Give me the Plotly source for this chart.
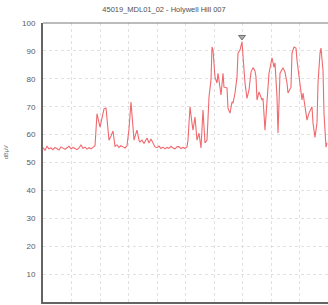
import plotly.graph_objects as go

# sample positions (arbitrary units, 0..285) and level in dBµV
sample_pos = [0, 2, 4, 6, 8, 10, 12, 14, 16, 18, 20, 22, 24, 26, 28, 30, 32, 34, 36, 38, 40, 42, 44, 46, 48, 50, 52,
              54, 56, 57, 59, 61, 63, 65, 66, 68, 70, 72, 74, 76, 78, 80, 82, 84, 86, 88, 90, 91, 93, 94, 96, 97, 99, 101,
              104, 106, 108, 110, 112, 114, 116, 118, 120, 122, 124, 126, 128, 130, 132, 134, 136, 138, 140, 142, 144, 145,
              147, 149, 150, 152, 154, 156, 158, 160, 162, 164, 166, 168, 169, 170, 172, 174, 175, 178, 180, 181, 184, 185,
              187, 189, 190, 192, 194, 195, 197, 199, 200, 202, 204, 206, 208, 210, 212, 213, 214, 216, 219, 220, 222, 224,
              226, 229, 231, 232, 234, 235, 237, 240, 242, 244, 245, 248, 249, 251, 253, 254, 257, 259, 260, 262, 264, 266,
              269, 270, 272, 274, 275, 277, 278, 280, 281, 283, 284]
level_dbuv = [55.3, 54.4, 55.8, 54.9, 55.2, 54.6, 55.4, 55.0, 54.5, 55.6, 55.1, 54.7, 55.3, 55.8, 54.9, 55.4, 55.0, 54.6,
              55.2, 56.3, 55.1, 55.5, 54.8, 55.3, 54.9, 55.4, 56.0,
              67.5, 63.5, 62.7, 66.0, 69.2, 69.5, 63.0, 58.0, 59.5, 61.3, 55.8, 56.3, 55.4, 56.0, 55.6, 55.2, 56.0, 62.0,
              71.7, 63.0, 58.0, 60.5, 61.6, 58.0, 57.4, 58.0, 56.8,
              58.8, 57.0, 58.4, 57.2, 55.6, 55.3, 55.9, 55.0, 55.5, 54.9, 55.4, 55.1, 55.8, 55.2, 54.9, 55.6, 55.7, 55.0,
              55.4, 55.1, 55.6, 58.0,
              70.0, 64.0, 61.6, 66.3, 58.0, 60.5, 55.2, 68.8, 57.0, 58.0, 73.5, 79.6, 91.4, 90.3, 80.6, 78.5, 82.0, 74.2,
              82.0, 77.0, 76.7, 69.5, 67.7, 71.7, 71.3, 74.9, 80.6, 89.2, 90.3, 93.2, 86.7, 78.5, 73.0, 76.0, 82.4, 84.0,
              82.8, 80.6, 72.4, 75.3, 72.4, 73.0, 61.6, 73.5, 82.0, 87.5, 84.2, 85.7, 73.5, 60.6, 82.0, 84.0, 82.4, 78.5,
              74.9, 77.0, 89.2, 91.4, 91.0, 86.7, 77.0, 72.4, 74.9, 70.0, 65.2, 67.7, 70.0, 64.2, 59.0, 64.2, 78.5, 89.2,
              91.0, 83.0, 67.7, 55.5, 57.0]
peak_pos = [199]
peak_level = [95]
y_ticks = [0, 10, 20, 30, 40, 50, 60, 70, 80, 90, 100]

fig = go.Figure()
fig.add_trace(go.Scatter(x=sample_pos, y=level_dbuv, mode="lines",
                         line=dict(color="rgb(240,105,110)", width=1.1), hoverinfo="skip"))
fig.add_trace(go.Scatter(x=peak_pos, y=peak_level, mode="markers",
                         marker=dict(symbol="triangle-down", size=6, color="rgb(175,175,175)",
                                     line=dict(color="rgb(110,110,110)", width=1)), hoverinfo="skip"))

grid = dict(showgrid=True, gridcolor="rgb(225,225,225)", griddash="dot", gridwidth=1, zeroline=False,
            automargin=False)
fig.update_layout(
    width=328, height=305, margin=dict(l=43, r=0, t=23, b=3, autoexpand=False),
    paper_bgcolor="white", plot_bgcolor="white", showlegend=False,
    font=dict(family="Liberation Sans, Arial, sans-serif", size=8, color="rgb(90,90,90)"),
    title=dict(text="45019_MDL01_02 - Holywell Hill 007", x=0.5, xanchor="center", xref="container",
               y=0.968, yref="container", yanchor="middle", font=dict(size=7.5, color="rgb(80,80,80)")),
    xaxis=dict(range=[0, 285], dtick=28.5, tick0=0, showticklabels=False, ticks="",
               showline=True, linecolor="rgb(100,100,100)", linewidth=2, mirror=False, **grid),
    yaxis=dict(range=[0, 100], tickvals=y_ticks, ticks="", showline=True, linecolor="rgb(100,100,100)",
               linewidth=2, ticklabelstandoff=4, **grid),
    annotations=[dict(text="dBµV", textangle=-90, x=(6 - 43) / 285, y=(302 - 152) / 279,
                      xref="paper", yref="paper", xanchor="center",
                      showarrow=False, font=dict(size=5.5, color="rgb(110,110,110)"))],
    shapes=[dict(type="line", xref="paper", yref="paper", x0=0, x1=1, y0=1, y1=1,
                 line=dict(color="rgb(120,120,120)", width=1))],
)
fig.write_html("out.html", config={"displayModeBar": False},
               post_script="document.body.style.margin='0';document.body.style.overflow='hidden';")
